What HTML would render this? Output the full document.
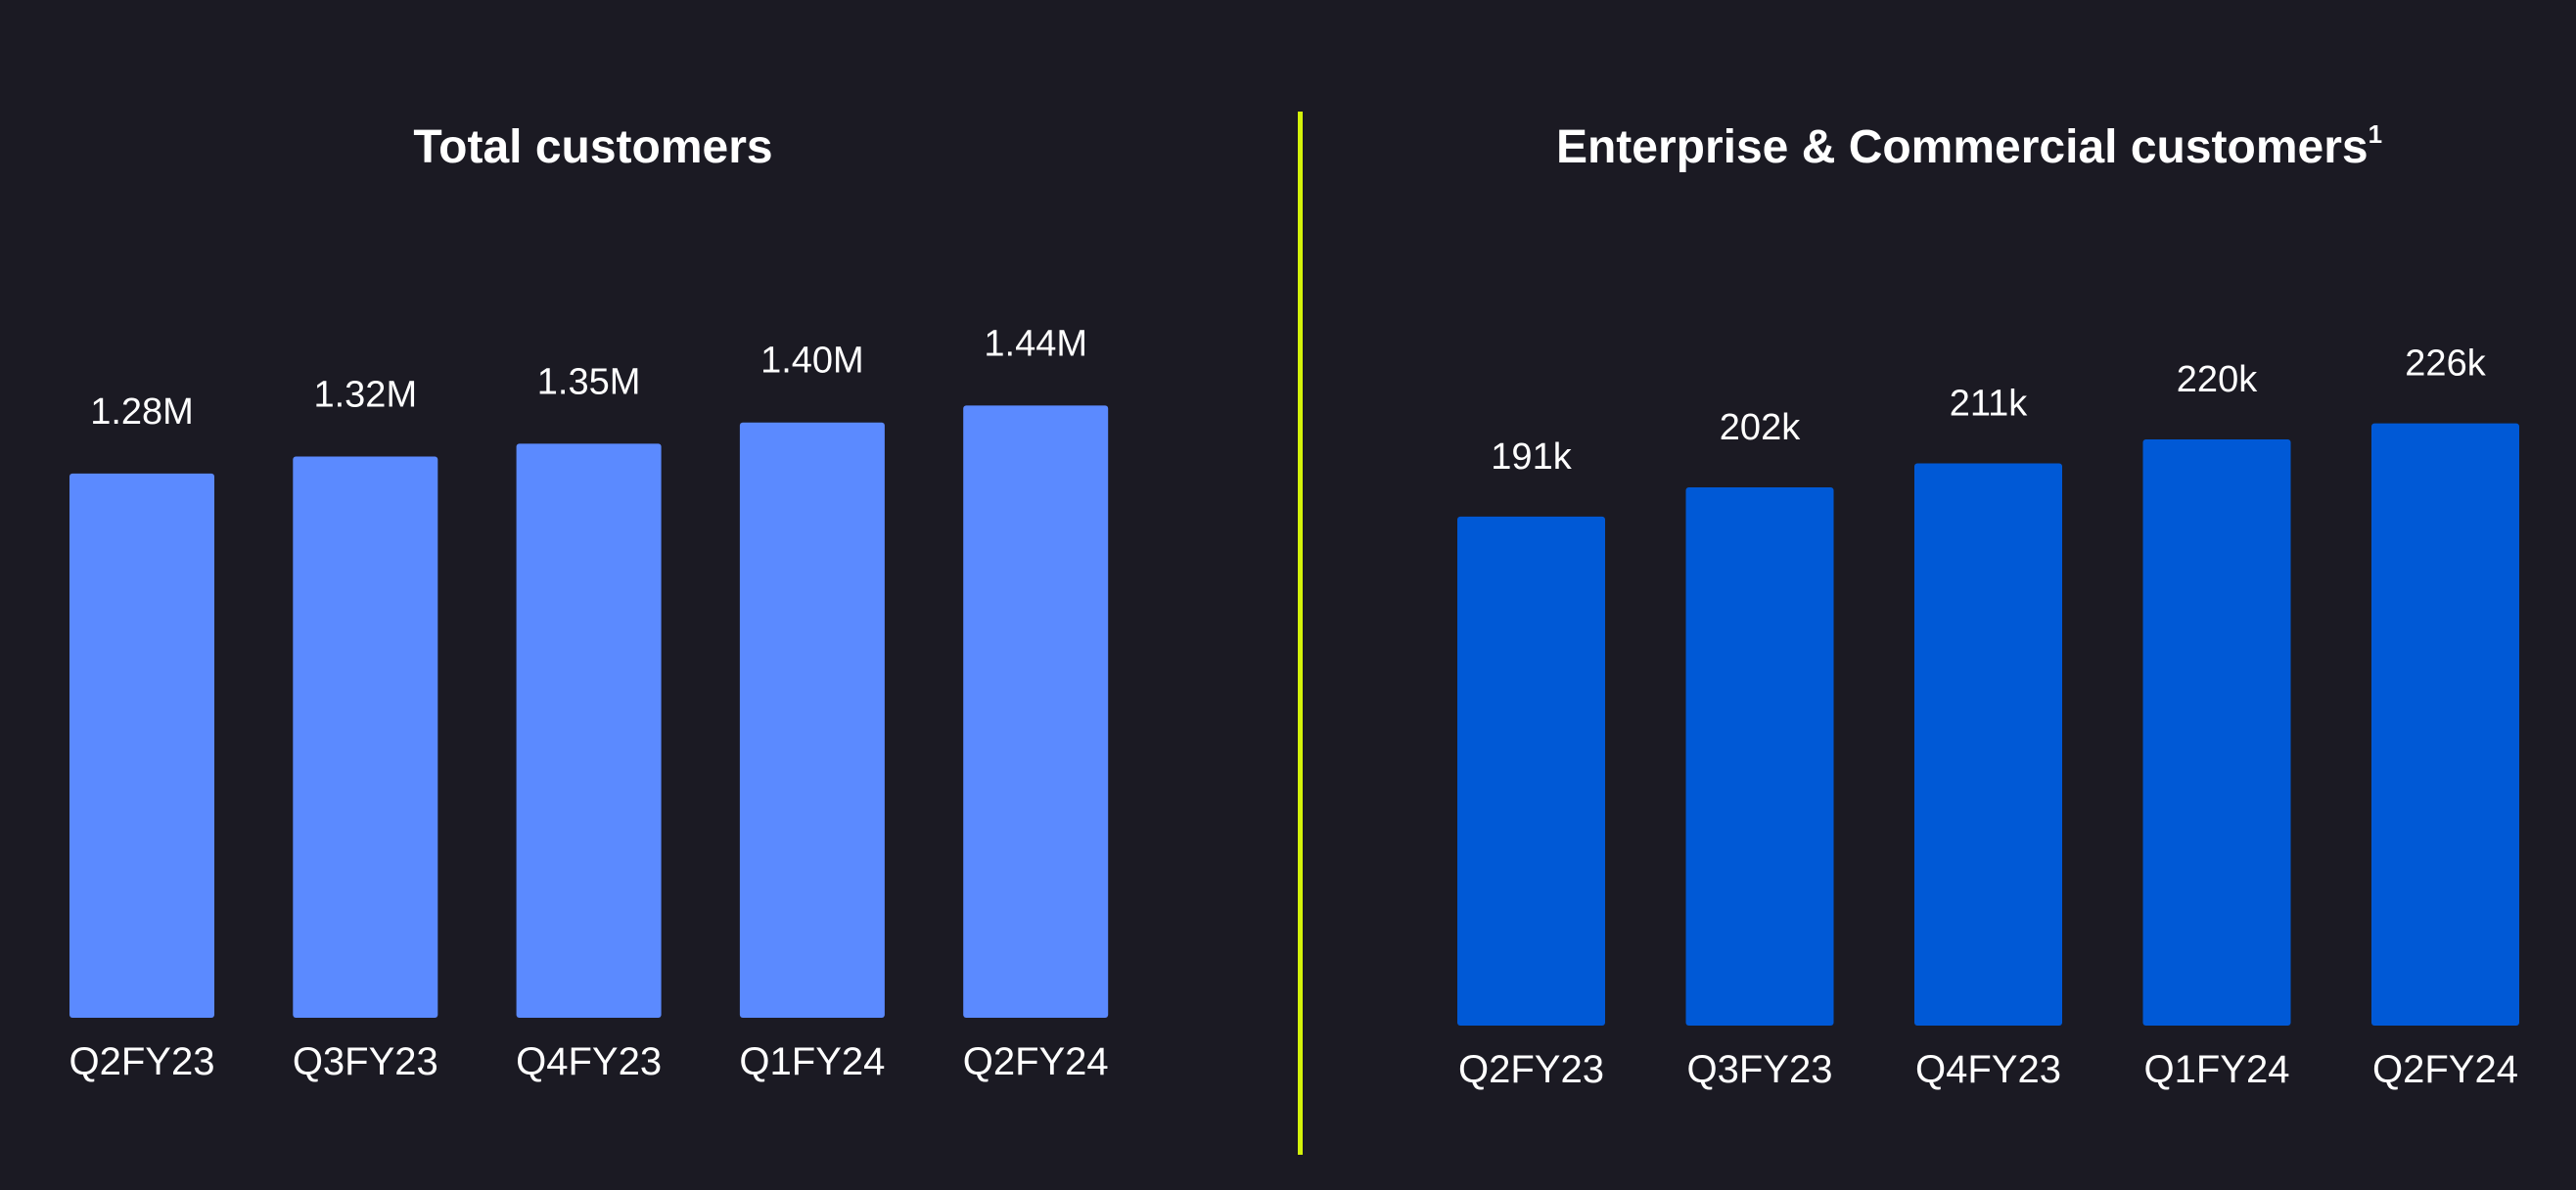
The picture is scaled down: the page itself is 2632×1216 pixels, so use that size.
<!DOCTYPE html>
<html><head><meta charset="utf-8"><style>
html,body{margin:0;padding:0;background:#1b1a23;}
svg{display:block;}
text{font-family:"Liberation Sans",sans-serif;fill:#fff;}
</style></head><body>
<svg id="c" width="2632" height="1216" viewBox="0 0 2632 1216" xmlns="http://www.w3.org/2000/svg">
<rect width="2632" height="1216" fill="#1b1a23"/>
<text x="606" y="166" font-size="48" font-weight="bold" text-anchor="middle">Total customers</text>
<text x="2012" y="166" font-size="48" font-weight="bold" text-anchor="middle">Enterprise &amp; Commercial customers<tspan font-size="26" dy="-20">1</tspan></text>
<rect x="1326" y="114" width="5" height="1066" fill="#d4f20a"/>
<g id="left"></g>
<g id="right"></g>
</svg>
<script>
const categories = ["Q2FY23","Q3FY23","Q4FY23","Q1FY24","Q2FY24"];
const totalValues = [1.28,1.32,1.35,1.40,1.44];
const totalLabels = ["1.28M","1.32M","1.35M","1.40M","1.44M"];
const entValues = [191,202,211,220,226];
const entLabels = ["191k","202k","211k","220k","226k"];

const NS="http://www.w3.org/2000/svg";
function drawChart(gid, values, labels, cfg){
  const g=document.getElementById(gid);
  const y=v=>cfg.base - v*cfg.scale;
  values.forEach((v,i)=>{
    const x=cfg.x0+i*cfg.step;
    const r=document.createElementNS(NS,"rect");
    r.setAttribute("x",x);r.setAttribute("y",y(v));
    r.setAttribute("width",cfg.w);r.setAttribute("height",cfg.base-y(v));
    r.setAttribute("rx",3);r.setAttribute("fill",cfg.color);
    
    
    g.appendChild(r);
    const t=document.createElementNS(NS,"text");
    t.setAttribute("x",x+cfg.w/2);t.setAttribute("y",y(v)-cfg.labOff);
    t.setAttribute("font-size",38);t.setAttribute("text-anchor","middle");
    t.textContent=labels[i];
    
    
    g.appendChild(t);
    const c=document.createElementNS(NS,"text");
    c.setAttribute("x",x+cfg.w/2);c.setAttribute("y",cfg.catY);
    c.setAttribute("font-size",40);c.setAttribute("text-anchor","middle");
    c.textContent=categories[i];
    
    
    g.appendChild(c);
  });
}
drawChart("left",totalValues,totalLabels,{x0:71,step:228.3,w:148,base:1040,scale:434.5,color:"#5b8aff",labOff:51,catY:1098});
drawChart("right",entValues,entLabels,{x0:1489,step:233.5,w:151,base:1048,scale:2.723,color:"#0059d6",labOff:49,catY:1106});
</script>
</body></html>
